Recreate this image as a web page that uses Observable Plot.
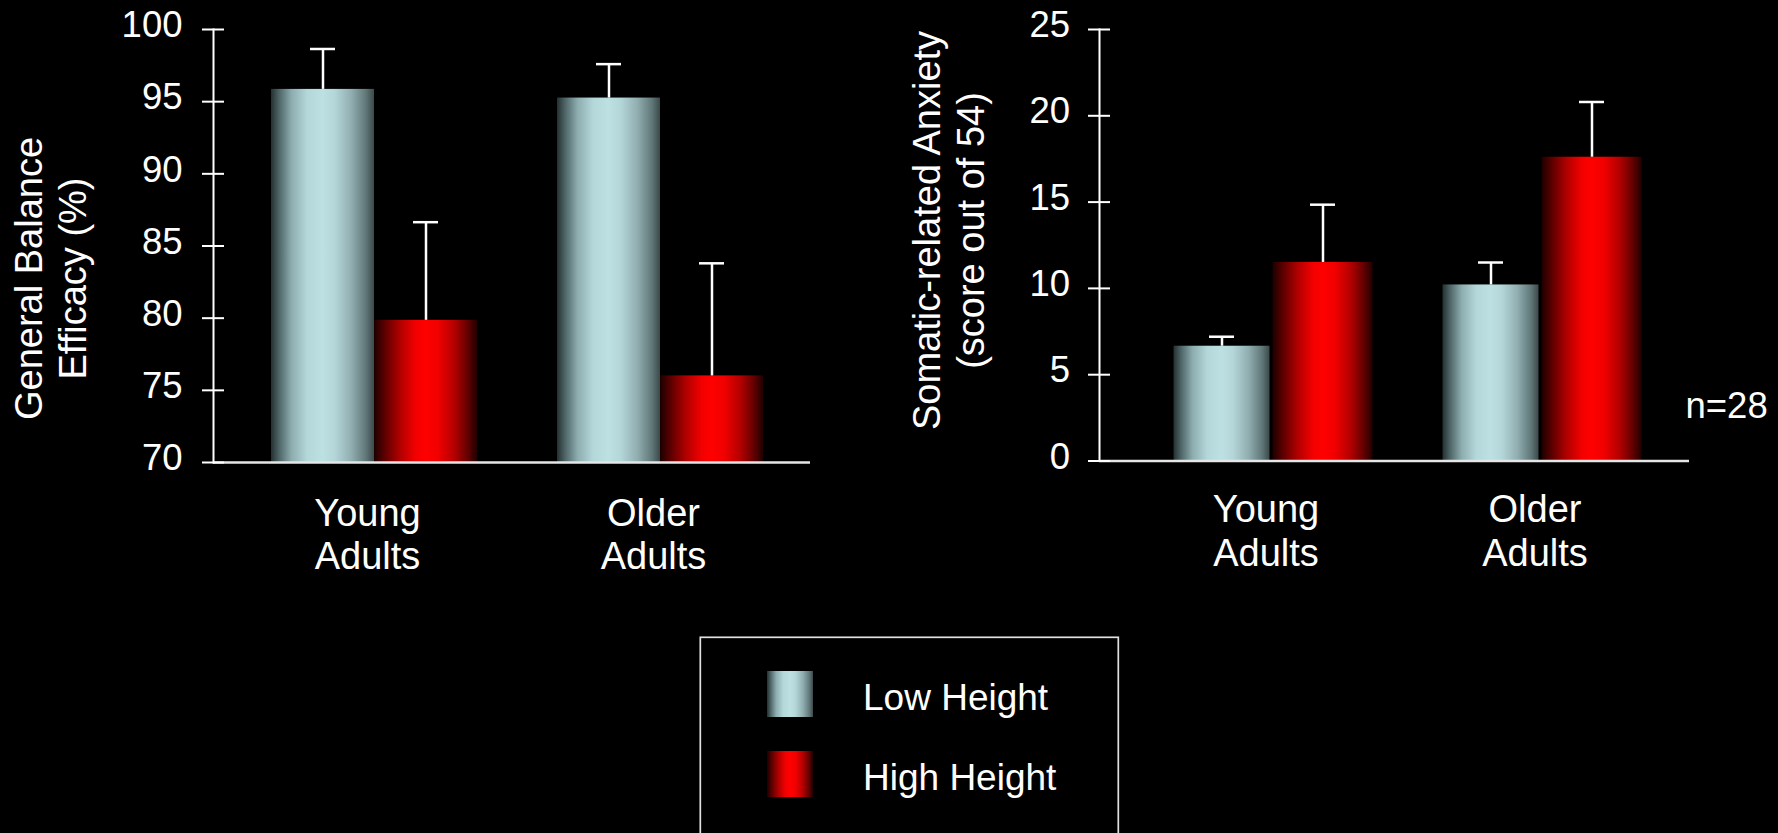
<!DOCTYPE html>
<html>
<head>
<meta charset="utf-8">
<script src="https://cdn.jsdelivr.net/npm/d3@7"></script>
<script src="https://cdn.jsdelivr.net/npm/@observablehq/plot@0.6"></script>
<style>
  html, body { margin: 0; padding: 0; background: #000; }
  #page { position: relative; width: 1778px; height: 833px; background: #000; overflow: hidden;
          font-family: "Liberation Sans", Arial, sans-serif; }
  #page > svg, #page > div { position: absolute; left: 0; top: 0; }
</style>
</head>
<body>
<div id="page">
  <svg width="0" height="0" aria-hidden="true">
    <defs>
      <linearGradient id="lowGrad" x1="0" x2="1" y1="0" y2="0">
        <stop offset="0%" stop-color="#243030"/>
        <stop offset="8%" stop-color="#4f6668"/>
        <stop offset="20%" stop-color="#8dadaf"/>
        <stop offset="35%" stop-color="#b4d7da"/>
        <stop offset="50%" stop-color="#bde0e3"/>
        <stop offset="62%" stop-color="#b4d6d9"/>
        <stop offset="78%" stop-color="#91aeb0"/>
        <stop offset="92%" stop-color="#617879"/>
        <stop offset="100%" stop-color="#3c494a"/>
      </linearGradient>
      <linearGradient id="highGrad" x1="0" x2="1" y1="0" y2="0">
        <stop offset="0%" stop-color="#1c0000"/>
        <stop offset="10%" stop-color="#5a0000"/>
        <stop offset="25%" stop-color="#b00000"/>
        <stop offset="40%" stop-color="#f20000"/>
        <stop offset="50%" stop-color="#ff0000"/>
        <stop offset="62%" stop-color="#f20000"/>
        <stop offset="78%" stop-color="#b40000"/>
        <stop offset="90%" stop-color="#6a0000"/>
        <stop offset="100%" stop-color="#220000"/>
      </linearGradient>
    </defs>
  </svg>
</div>
<script>
// Age groups and their axis labels
const groups = ["Young", "Older"];
const groupLabels = ["Young\nAdults", "Older\nAdults"];
const seriesNames = ["Low Height", "High Height"];

// General balance efficacy (%): mean and standard error per group
const efficacyLow = [95.85, 95.25];
const efficacyLowSE = [2.8, 2.35];
const efficacyHigh = [79.85, 76.0];
const efficacyHighSE = [6.8, 7.8];
const efficacyTicks = [70, 75, 80, 85, 90, 95, 100];

// Somatic-related anxiety (score out of 54): mean and standard error per group
const anxietyLow = [6.65, 10.2];
const anxietyLowSE = [0.55, 1.3];
const anxietyHigh = [11.5, 17.6];
const anxietyHighSE = [3.35, 3.2];
const anxietyTicks = [0, 5, 10, 15, 20, 25];

const sampleNote = "n=28";

const W = 1778, H = 600;
const TICK_FONT = 36.5, LABEL_FONT = 38, LEGEND_FONT = 37;
const seriesFills = ["url(#lowGrad)", "url(#highGrad)"];

function rowsOf(means, ses) {
  return groups.map((group, i) => ({group, mean: means[i], se: ses[i]}));
}

function groupedChart(o) {
  const step = (o.band[1] - o.band[0]) / groups.length;
  const half = step / 2;
  const frameMid = (o.marginTop + H - o.marginBottom) / 2;
  const layers = [
    {rows: rowsOf(o.low, o.lowSE), fill: seriesFills[0], span: o.lowSpan},
    {rows: rowsOf(o.high, o.highSE), fill: seriesFills[1], span: o.highSpan}
  ];
  const marks = [];
  for (const {rows, fill, span} of layers) {
    const mid = (span[0] + span[1]) / 2;
    marks.push(
      Plot.barY(rows, {x: "group", y1: o.floor, y2: "mean", fill,
        insetLeft: half + span[0], insetRight: half - span[1]}),
      Plot.ruleX(rows, {x: "group", y1: "mean", y2: d => d.mean + d.se, dx: mid,
        stroke: "#fff", strokeWidth: 2.5}),
      Plot.tickY(rows, {x: "group", y: d => d.mean + d.se, dx: mid,
        insetLeft: half - 12.5, insetRight: half - 12.5, stroke: "#fff", strokeWidth: 2.5})
    );
  }
  marks.push(
    Plot.ruleY([o.floor], {stroke: "#e6e6e6", strokeWidth: 2.5}),
    Plot.frame({anchor: "left", stroke: "#fff", strokeWidth: 2}),
    // ticks straddle the axis line
    Plot.axisY(o.ticks, {tickSize: 22, dx: 11, fill: "none", stroke: "#fff", strokeWidth: 2, label: null}),
    Plot.axisY(o.ticks, {tickSize: 0, tickPadding: o.tickPadding, dy: -4, fontSize: TICK_FONT,
      fill: "#fff", label: null}),
    Plot.axisX(groups, {tickSize: 0, tickPadding: o.labelPadding, dx: -7, fontSize: LABEL_FONT,
      lineHeight: 1.15, fill: "#fff", label: null,
      tickFormat: g => groupLabels[groups.indexOf(g)]}),
    Plot.text([o.title], {text: d => d, frameAnchor: "left", rotate: -90,
      dx: o.titleX - o.marginLeft, dy: o.titleY - frameMid,
      fontSize: LABEL_FONT, lineHeight: 1.17, textAnchor: "middle", lineAnchor: "middle", fill: "#fff"}),
    ...(o.extra || [])
  );
  return Plot.plot({
    width: W, height: H,
    marginLeft: o.marginLeft, marginRight: o.marginRight,
    marginTop: o.marginTop, marginBottom: o.marginBottom,
    style: {background: "transparent", color: "#fff", fontFamily: "Liberation Sans, Arial, sans-serif"},
    x: {domain: groups, range: o.band, padding: 0},
    y: {domain: [o.ticks[0], o.ticks[o.ticks.length - 1]]},
    marks
  });
}

const page = document.getElementById("page");

const efficacyChart = groupedChart({
  low: efficacyLow, lowSE: efficacyLowSE, high: efficacyHigh, highSE: efficacyHighSE,
  ticks: efficacyTicks, floor: 70,
  marginLeft: 213, marginRight: W - 810, marginTop: 29, marginBottom: H - 462,
  band: [231, 803], lowSpan: [-103, 0], highSpan: [0, 103],
  tickPadding: 31, labelPadding: 32,
  title: "General Balance\nEfficacy (%)", titleX: 49.5, titleY: 278
});

const anxietyChart = groupedChart({
  low: anxietyLow, lowSE: anxietyLowSE, high: anxietyHigh, highSE: anxietyHighSE,
  ticks: anxietyTicks, floor: 0,
  marginLeft: 1099, marginRight: W - 1689, marginTop: 29, marginBottom: H - 460.5,
  band: [1137.5, 1675.5], lowSpan: [-99, -3], highSpan: [0, 100],
  tickPadding: 29.5, labelPadding: 30,
  title: "Somatic-related Anxiety\n(score out of 54)", titleX: 947.5, titleY: 230,
  extra: [
    Plot.text([sampleNote], {text: d => d, frameAnchor: "right", textAnchor: "start",
      dx: -4, dy: 161.5, fontSize: TICK_FONT, fill: "#fff"})
  ]
});

page.append(efficacyChart, anxietyChart);

// Legend box below the two panels
const legend = d3.create("svg")
  .attr("width", 421).attr("height", 200)
  .style("left", "699px").style("top", "636px")
  .attr("font-family", "Liberation Sans, Arial, sans-serif");
legend.append("rect")
  .attr("x", 1.3).attr("y", 1.3).attr("width", 418).attr("height", 300)
  .attr("fill", "none").attr("stroke", "#e0e0e0").attr("stroke-width", 1.7);
const entries = legend.selectAll("g").data(seriesNames).join("g")
  .attr("transform", (d, i) => `translate(0, ${i * 80})`);
entries.append("rect")
  .attr("x", 68).attr("y", 35).attr("width", 46).attr("height", 46)
  .attr("fill", (d, i) => seriesFills[i]);
entries.append("text")
  .attr("x", 164).attr("y", 74)
  .attr("fill", "#fff").attr("font-size", LEGEND_FONT)
  .text(d => d);
page.append(legend.node());
</script>
</body>
</html>
